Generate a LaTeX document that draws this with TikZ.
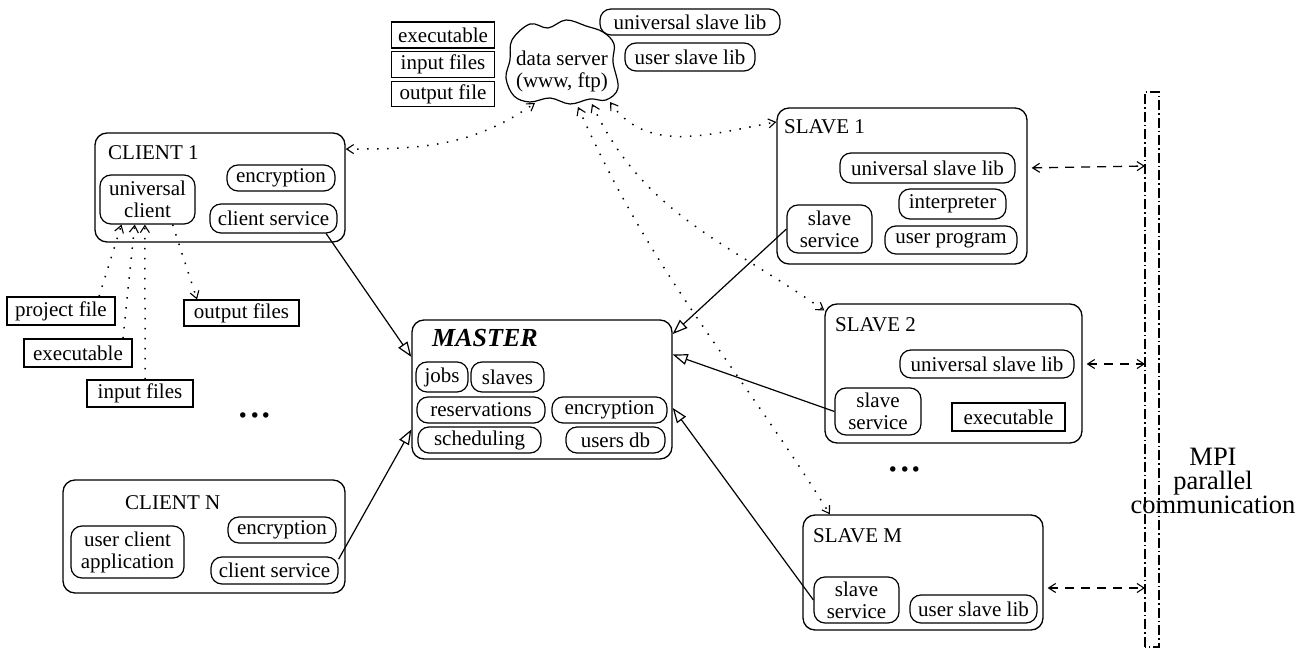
\documentclass[tikz,border=0pt]{standalone}
\usepackage{fontspec}
\setmainfont{Liberation Serif}
\usetikzlibrary{arrows.meta}

\begin{document}
\begin{tikzpicture}[x=1pt, y=1pt, font=\fontsize{21}{22}\selectfont,
    >={Straight Barb[length=7pt,width=9pt,line width=1.1pt]},
    bigbox/.style={draw, line width=1.3pt, rounded corners=12pt},
    part/.style={draw, line width=1.2pt, rounded corners=11pt, inner sep=0pt, align=center},
    filebox/.style={draw, line width=1.2pt, inner sep=0pt},
    boxtitle/.style={anchor=west, inner sep=0pt},
    dataflow/.style={line width=1.5pt, dash pattern=on 1.5pt off 8.5pt},
    mpi/.style={<->, line width=1.3pt, dash pattern=on 9pt off 7pt, shorten <=4pt},
    tomaster/.style={-{Triangle[open,length=15pt,width=11pt]}, line width=1.2pt}]
\useasboundingbox (0,0) rectangle (1307,648);

% archivos y librerias arriba
\node[filebox, minimum width=103pt, minimum height=26pt] (topexe) at (443,613) {executable};
\node[filebox, minimum width=103pt, minimum height=26pt] (topinp) at (443,583.5) {input files};
\node[filebox, minimum width=103pt, minimum height=25pt] (topout) at (443,554) {output file};
\node[part, minimum width=180pt, minimum height=26pt] (toplib) at (690,626) {universal slave lib};
\node[part, minimum width=130pt, minimum height=28pt] (topusr) at (690,591) {user slave lib};

% servidor de datos (nube)
\draw[line width=1.2pt] plot[smooth cycle, tension=0.6] coordinates {(512,608) (530,624) (548,620) (566,628) (586,622) (603,616) (614,604) (613,586) (618,560) (606,548) (590,549) (570,544) (550,550) (530,546) (514,552) (506,570) (510,588)};
\node[align=center] (server) at (562,577) {data server\\(www, ftp)};
\coordinate (c1) at (535,545);
\coordinate (c2) at (578,541);
\coordinate (c3) at (592,544);
\coordinate (c4) at (610,546);

% cliente 1
\node[bigbox, minimum width=250pt, minimum height=109pt] (client1) at (220,460.5) {};
\node[boxtitle] (t1) at (108,495) {CLIENT 1};
\node[part, minimum width=95pt, minimum height=49pt] (uc1) at (147.5,448.5) {universal\\client};
\node[part, minimum width=108pt, minimum height=26pt] (enc1) at (281,470) {encryption};
\node[part, minimum width=127pt, minimum height=29pt] (cs1) at (273.5,429.5) {client service};

% archivos del cliente
\node[filebox, minimum width=108pt, minimum height=28pt] (projfile) at (61,337) {project file};
\node[filebox, minimum width=108pt, minimum height=28pt] (exe1) at (78,295) {executable};
\node[filebox, minimum width=106pt, minimum height=27pt] (inp1) at (140,254.5) {input files};
\node[filebox, minimum width=115pt, minimum height=26pt] (outf) at (241.5,335) {output files};
\draw[dataflow, ->] (projfile.21) -- (uc1.224);
\draw[dataflow, ->] (exe1.18) -- (uc1.243);
\draw[dataflow, ->] (inp1.70) -- (uc1.264);
\draw[dataflow, ->] (uc1.-45) -- (outf.163);

\node[font=\fontsize{46}{46}\selectfont] (dotsC) at (255,233) {...};

% cliente N
\node[bigbox, minimum width=282pt, minimum height=113pt] (clientN) at (204,111.5) {};
\node[boxtitle] (tN) at (125,145) {CLIENT N};
\node[part, minimum width=113pt, minimum height=52pt] (uca) at (127.5,96) {user client\\application};
\node[part, minimum width=108pt, minimum height=26pt] (encN) at (282,118) {encryption};
\node[part, minimum width=127pt, minimum height=27pt] (csN) at (274.5,77.5) {client service};

% master
\node[bigbox, minimum width=260pt, minimum height=139pt] (master) at (542,258.5) {};
\node[boxtitle, font=\fontsize{26}{30}\selectfont\bfseries\itshape] (tM) at (432,310) {MASTER};
\node[part, minimum width=52pt, minimum height=30pt] (jobs) at (442,271) {jobs};
\node[part, minimum width=73pt, minimum height=30pt] (slaves) at (507.5,271) {slaves};
\node[part, minimum width=128pt, minimum height=26pt] (reserv) at (481,238) {reservations};
\node[part, minimum width=115pt, minimum height=26pt] (encM) at (609.5,238) {encryption};
\node[part, minimum width=123pt, minimum height=26pt] (sched) at (479.5,208) {scheduling};
\node[part, minimum width=99pt, minimum height=26pt] (usersdb) at (615.5,208) {users db};

% slave 1
\node[bigbox, minimum width=250pt, minimum height=156pt] (slave1) at (902,462) {};
\node[boxtitle] (ts1) at (784,521) {SLAVE 1};
\node[part, minimum width=175pt, minimum height=30pt] (usl1) at (927.5,480) {universal slave lib};
\node[part, minimum width=107pt, minimum height=30pt] (interp) at (952.5,444) {interpreter};
\node[part, minimum width=132pt, minimum height=28pt] (uprog) at (951,408) {user program};
\node[part, minimum width=85pt, minimum height=48pt] (ss1) at (829.5,419) {slave\\service};

% slave 2
\node[bigbox, minimum width=257pt, minimum height=139pt] (slave2) at (953.5,274.5) {};
\node[boxtitle] (ts2) at (835,323) {SLAVE 2};
\node[part, minimum width=174pt, minimum height=28pt] (usl2) at (987,284) {universal slave lib};
\node[part, minimum width=86pt, minimum height=47pt] (ss2) at (878,236.5) {slave\\service};
\node[filebox, minimum width=113pt, minimum height=28pt] (exe2) at (1008.5,231) {executable};

\node[font=\fontsize{46}{46}\selectfont] (dotsS) at (905,179) {...};

% slave M
\node[bigbox, minimum width=240pt, minimum height=115pt] (slaveM) at (923,75.5) {};
\node[boxtitle] (tsM) at (813,112) {SLAVE M};
\node[part, minimum width=85pt, minimum height=46pt] (ssM) at (856.5,48) {slave\\service};
\node[part, minimum width=127pt, minimum height=28pt] (uslM) at (973.5,39) {user slave lib};

% conexiones al master
\draw[tomaster] (cs1.-16) -- (master.166);
\draw[tomaster] (csN.10) -- (master.197);
\draw[tomaster] (ss1.west) -- (master.23);
\draw[tomaster] (ss2.west) -- (master.15);
\draw[tomaster] (ssM.west) -- (master.-8);

% conexiones al servidor de datos
\draw[dataflow, <->] (client1.17) to[out=0, in=-145] (c1);
\draw[dataflow, <->] (c4) to[out=-55, in=190] (slave1.153);
\draw[dataflow, <->] (c3) to[out=-65, in=145] (slave2.154);
\draw[dataflow, <->] (c2) to[out=-66, in=122] (slaveM.148);

% MPI
\draw[line width=1.2pt, dash pattern=on 10pt off 3pt on 1.5pt off 3pt] (1145,1) rectangle (1159,556);
\coordinate (bar1) at (1145,482);
\coordinate (bar2) at (1145,284);
\coordinate (barM) at (1145,60);
\draw[mpi] (slave1.east |- usl1) -- (bar1);
\draw[mpi] (slave2.east |- usl2) -- (bar2);
\draw[mpi] (slaveM.east |- barM) -- (barM);
\node[align=center, font=\fontsize{26.5}{24}\selectfont] (mpitext) at (1213,167) {MPI\\parallel\\communication};
\end{tikzpicture}
\end{document}
